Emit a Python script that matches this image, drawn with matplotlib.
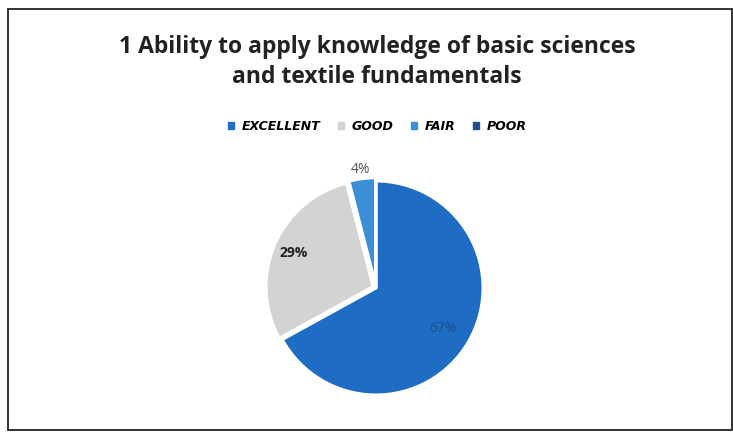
import numpy as np
import matplotlib.pyplot as plt
from matplotlib.patches import Rectangle

# data
categories = ['EXCELLENT', 'GOOD', 'FAIR', 'POOR']
shares = [67, 29, 4, 0]
colors = ['#1f6cc4', '#d3d3d1', '#3b8fd6', '#1e4f8e']
label_color = ['#1d4f8a', '#222222', '#555555', '#222222']
label_dist = [0.73, 0.84, 1.13, 0.8]

title = '1 Ability to apply knowledge of basic sciences\nand textile fundamentals'

fig = plt.figure(figsize=(7.33, 4.35), dpi=100)
fig.patch.set_facecolor('white')

# chart border
fig.patches.append(Rectangle((8/733, 4/435), 724/733, 421/435, transform=fig.transFigure,
                             fill=False, edgecolor='#222222', linewidth=1.3))

fig.text(377/733, 1 - 62/435, title, ha='center', va='center', fontsize=16.5,
         fontweight='bold', family='Open Sans', color='#222222', linespacing=1.3)

# pie axes: center ~ (376, 289) px, radius ~ 107 px
r = 107 * 1.05
ax = fig.add_axes([(376 - r)/733, (435 - 289 - r)/435, 2*r/733, 2*r/435])
wedges, _ = ax.pie(shares, colors=colors, startangle=90, counterclock=False,
                   explode=[0, 0.03, 0.03, 0], radius=1,
                   wedgeprops=dict(edgecolor='white', linewidth=2.2))
ax.set_xlim(-1.05, 1.05)
ax.set_ylim(-1.05, 1.05)

for w, s, c, d in zip(wedges, shares, label_color, label_dist):
    if s == 0:
        continue
    ang = np.deg2rad((w.theta1 + w.theta2) / 2)
    bold = 'bold' if s == 29 else 'normal'
    ax.text(d*np.cos(ang), d*np.sin(ang), f'{s}%', ha='center', va='center',
            fontsize=10, color=c, fontweight=bold, family='Open Sans')

# legend
handles = [Rectangle((0, 0), 1, 1, color=c) for c in colors]
fig.legend(handles, categories, loc='center', bbox_to_anchor=(377/733, 1 - 127/435),
           ncol=4, frameon=False, handlelength=0.5, handleheight=0.5,
           handletextpad=0.6, columnspacing=1.4,
           prop=dict(family='DejaVu Sans', style='italic', weight='bold', size=9))

fig.savefig('out.png', dpi=100, facecolor='white')
